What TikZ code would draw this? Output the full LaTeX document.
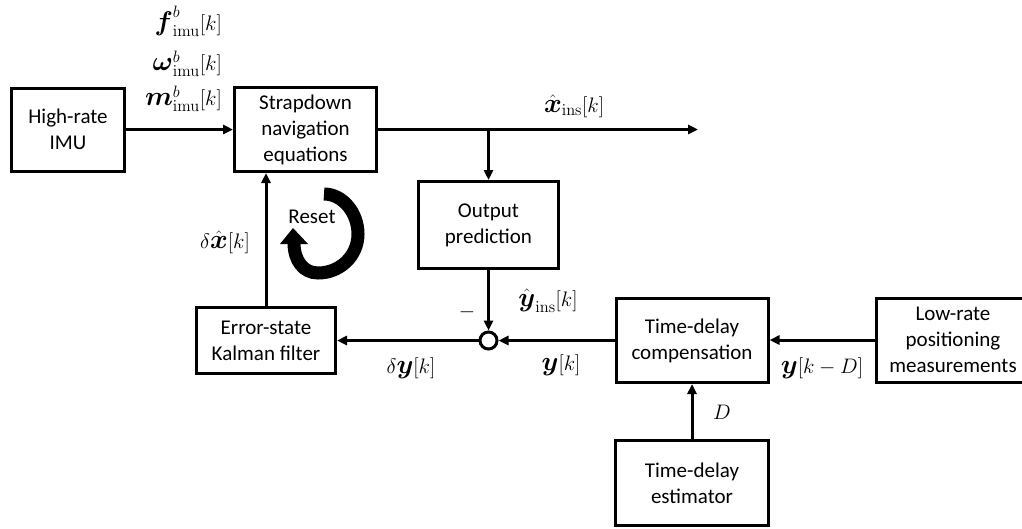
\RequirePackage{fix-cm}
\documentclass[tikz,border=0pt]{standalone}
\usepackage{amsmath,bm}
\usepackage[no-math]{fontspec}
\setmainfont{Carlito}
\usetikzlibrary{arrows.meta}
\DeclareMathSizes{21}{21}{16.5}{12}
\DeclareMathSizes{27}{27}{19}{14}
\newcommand{\boxfont}{\fontsize{21}{26}\selectfont}
\newcommand{\mathsz}{\fontsize{21}{26}\selectfont}
\newcommand{\bsym}[1]{\text{\fontsize{27}{30}\selectfont$\bm{#1}$}}
\begin{document}
\begin{tikzpicture}[x=1pt,y=-1pt,
  blk/.style={draw, line width=3pt, align=center, font=\boxfont, inner sep=0pt},
  arr/.style={-{Triangle[length=10pt,width=9pt]}, line width=3pt},
  lbl/.style={font=\mathsz, inner sep=0pt}]
\useasboundingbox (0,0) rectangle (1022,528);
% blocks
\node[blk, minimum width=113pt, minimum height=83pt] (imu) at (68,129.5) {High-rate\\IMU};
\node[blk, minimum width=142pt, minimum height=84pt] (sd) at (305.5,129.5) {Strapdown\\navigation\\equations};
\node[blk, minimum width=140pt, minimum height=87pt] (op) at (488.5,225) {Output\\prediction};
\node[blk, minimum width=139pt, minimum height=66pt] (ekf) at (266,340.5) {Error-state\\Kalman filter};
\node[blk, minimum width=152pt, minimum height=84pt] (tdc) at (692,340.5) {Time-delay\\compensation};
\node[blk, minimum width=153pt, minimum height=84pt] (lr) at (953,340) {Low-rate\\positioning\\measurements};
\node[blk, minimum width=153pt, minimum height=85pt] (tde) at (692,483) {Time-delay\\estimator};
\node[draw, circle, line width=3pt, minimum size=17pt, inner sep=0pt] (sum) at (488.5,340.5) {};
\coordinate (xout) at (698,129.5);
\coordinate (br) at (op.north |- sd.east);
% connectors
\draw[arr] (imu) -- (sd);
\draw[arr] (sd.east) -- (xout);
\draw[arr] (br) -- (op.north);
\draw[arr] (op) -- (sum);
\draw[arr] (tdc) -- (sum);
\draw[arr] (sum) -- (ekf);
\draw[arr] (ekf.north) -- (ekf.north |- sd.south);
\draw[arr] (lr.west) -- (tdc.east |- lr.west);
\draw[arr] (tde) -- (tdc);
% labels
\node[lbl, anchor=base east] (lf) at (222,30) {$\bsym{f}^{b}_{\mathrm{imu}}[k]$};
\node[lbl, anchor=base east] (lw) at (222,70) {$\bsym{\omega}^{b}_{\mathrm{imu}}[k]$};
\node[lbl, anchor=base east] (lm) at (222,105) {$\bsym{m}^{b}_{\mathrm{imu}}[k]$};
\node[lbl, anchor=base] (lx) at (574,112) {$\hat{\bsym{x}}_{\mathrm{ins}}[k]$};
\node[lbl, anchor=base east] (ldx) at (250,248) {$\delta\hat{\bsym{x}}[k]$};
\node[lbl, anchor=base] (ldy) at (411,373) {$\delta\bsym{y}[k]$};
\node[lbl, anchor=base] (lyh) at (548,306) {$\hat{\bsym{y}}_{\mathrm{ins}}[k]$};
\node[lbl] (lmin) at (467,312) {$-$};
\node[lbl, anchor=base] (ly) at (561,370) {$\bsym{y}[k]$};
\node[lbl, anchor=base] (lyd) at (822,373) {$\bsym{y}[k-D]$};
\node[lbl, anchor=base] (lD) at (722,419) {$D$};
% reset arrow
\fill (280,244) -- (293,228) -- (308,244) -- cycle;
\draw[line width=13pt] (324,194) .. controls (343,194) and (358,213) .. (358,234)
  .. controls (358,256) and (340,273) .. (318,273)
  .. controls (303,273) and (294,260) .. (294,243);
\node[font=\boxfont, inner sep=0pt] (reset) at (312,217) {Reset};
\end{tikzpicture}
\end{document}
